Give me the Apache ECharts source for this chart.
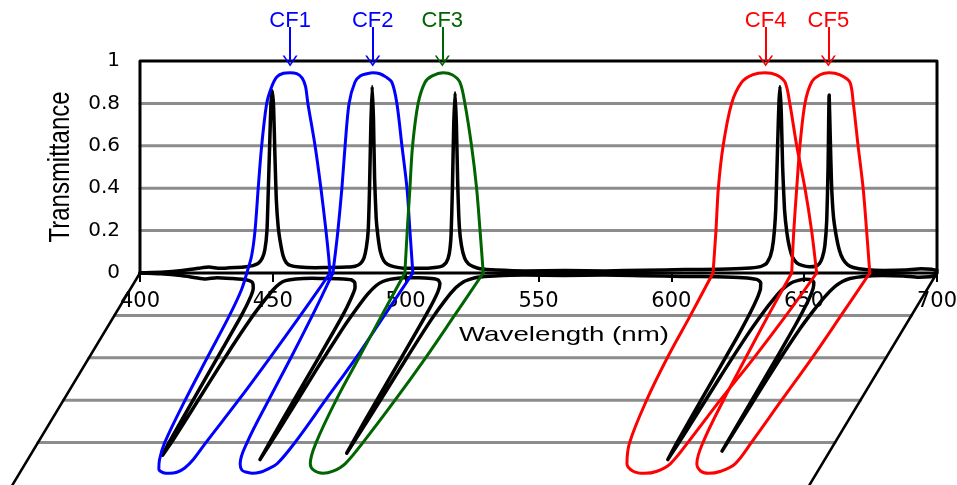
<!DOCTYPE html>
<html>
<head>
<meta charset="utf-8">
<script src="https://cdn.jsdelivr.net/npm/echarts@6/dist/echarts.min.js"></script>
<style>
    html, body { margin: 0; padding: 0; background: #fff; }
    #main { width: 957px; height: 485px; }
</style>
</head>
<body>
<div id="main"></div>
<script>
    // axis ticks / labels
    var xTicks = [400, 450, 500, 550, 600, 650, 700];
    var yTickLabels = ['0', '0.2', '0.4', '0.6', '0.8', '1'];
    var gridLevels = [0.2, 0.4, 0.6, 0.8];

    // colour filters
    var filterNames = ['CF1', 'CF2', 'CF3', 'CF4', 'CF5'];
    var filterColors = ['#0000ff', '#0000ff', '#006400', '#ff0000', '#ff0000'];
    var filterCenters = [456.5, 487.6, 513.8, 635.5, 659.1];

    var cf1 = [[440.2,0],[442,0.08],[443.3,0.2],[444.5,0.4],[445.8,0.6],[447.7,0.8],[449.6,0.88],[451.5,0.925],[454,0.942],[456.5,0.945],[459,0.94],[461,0.92],[462.3,0.88],[463.2,0.8],[465.9,0.6],[468.1,0.4],[470,0.2],[471,0.08],[471.5,0]];
    var cf2 = [[472.6,0],[473.6,0.1],[474.5,0.2],[476,0.4],[477.2,0.6],[478.7,0.8],[480.9,0.9],[483,0.93],[485.4,0.94],[487.7,0.945],[490.3,0.94],[492.5,0.925],[494.8,0.9],[496.7,0.8],[498.6,0.6],[500.5,0.4],[501.6,0.2],[502.7,0]];
    var cf3 = [[499.7,0],[500.6,0.2],[501.6,0.4],[502.6,0.6],[504.7,0.8],[507.3,0.9],[510,0.93],[514.2,0.945],[517.5,0.935],[520.4,0.9],[522.3,0.8],[524.8,0.6],[526.7,0.4],[528,0.2],[529.2,0]];
    var cf4 = [[615.7,0],[616.8,0.2],[617.7,0.4],[619.5,0.6],[622.7,0.8],[626.5,0.9],[630.5,0.935],[635.2,0.945],[639.5,0.935],[642.8,0.9],[644.6,0.8],[647.2,0.6],[650.3,0.4],[652.8,0.2],[654.7,0]];
    var cf5 = [[645.3,0],[646.1,0.2],[647.2,0.4],[648.4,0.6],[650.3,0.8],[652.8,0.9],[656,0.935],[659.4,0.945],[663.5,0.935],[667.2,0.9],[668.5,0.8],[670.3,0.6],[672.2,0.4],[673.5,0.2],[674.7,0]];
    var filters = [cf1, cf2, cf3, cf4, cf5];

    // laser lines (black)
    var laser = [[400,0],[408,0.004],[416,0.012],[422,0.022],[426,0.028],[430,0.022],[436,0.026],[440,0.03],[442.5,0.035],[444.5,0.045],[446,0.07],[447,0.11],[447.8,0.2],[448.2,0.35],[448.8,0.6],[449.3,0.8],[449.8,0.86],[450.3,0.78],[450.8,0.55],[451.3,0.35],[452,0.22],[452.9,0.14],[453.9,0.08],[455,0.05],[456.5,0.036],[460,0.028],[466,0.025],[472,0.026],[478,0.028],[481,0.032],[483,0.045],[484.3,0.07],[485.2,0.12],[485.9,0.2],[486.4,0.4],[486.9,0.7],[487.4,0.88],[487.9,0.72],[488.3,0.45],[488.9,0.26],[489.6,0.17],[490.5,0.1],[491.7,0.06],[493.3,0.04],[495.5,0.03],[500,0.022],[506,0.022],[511,0.026],[513.8,0.033],[515.3,0.05],[516.4,0.09],[517.1,0.18],[517.6,0.4],[518.1,0.7],[518.6,0.85],[519.1,0.7],[519.6,0.42],[520.2,0.22],[521,0.13],[522.2,0.07],[523.7,0.042],[525.5,0.03],[528,0.02],[534,0.014],[545,0.01],[560,0.012],[575,0.01],[590,0.013],[605,0.016],[618,0.018],[628,0.022],[633.5,0.03],[635.8,0.045],[637.3,0.08],[638.4,0.15],[639.3,0.3],[640,0.6],[640.5,0.8],[640.9,0.88],[641.4,0.75],[641.9,0.5],[642.6,0.3],[643.5,0.19],[644.5,0.12],[645.6,0.075],[647.2,0.048],[649.2,0.036],[652,0.03],[654.3,0.032],[655.8,0.045],[656.9,0.075],[657.8,0.13],[658.5,0.25],[659,0.5],[659.4,0.84],[659.8,0.65],[660.3,0.42],[661,0.27],[662,0.18],[663.2,0.11],[664.6,0.065],[666.3,0.04],[668.5,0.026],[673,0.016],[680,0.012],[688,0.014],[694,0.02],[698,0.018],[700,0.012]];

    // slanted "floor" below the axis: each point is reflected and pushed left
    var SHEAR = 48; // nm per unit of transmittance
    function mirror(pts) {
        return pts.map(function (p) { return [p[0] - SHEAR * p[1], -p[1]]; });
    }

    function line(data, color, width, smooth) {
        return {
            type: 'line',
            data: data,
            showSymbol: false,
            symbol: 'none',
            clip: false,
            silent: true,
            animation: false,
            smooth: smooth || false,
            lineStyle: { color: color, width: width, cap: 'round', join: 'round' },
            itemStyle: { color: color }
        };
    }

    var x0 = xTicks[0], x1 = xTicks[xTicks.length - 1];
    var series = [];
    // grid lines, top and slanted copy
    gridLevels.forEach(function (g) {
        series.push(line([[x0, g], [x1, g]], '#8c8c8c', 3));
        series.push(line(mirror([[x0, g], [x1, g]]), '#8c8c8c', 3));
    });
    // plot frame + zero line
    series.push(line([[x0, 0], [x0, 1], [x1, 1], [x1, 0]], '#000', 3));
    series.push(line([[x0, 0], [x1, 0]], '#000', 3));
    series.push(line(mirror([[x0, 0], [x0, 1]]), '#000', 2.5));
    series.push(line(mirror([[x1, 0], [x1, 1]]), '#000', 2.5));
    // laser
    series.push(line(laser, '#000', 3.5, 0.15));
    series.push(line(mirror(laser), '#000', 3.5, 0.2));
    // filters
    var chevron = 'path://M0,10 L10,0 L20,10 L17.5,10 L10,2.5 L2.5,10 Z';
    filters.forEach(function (f, i) {
        var s = line(f, filterColors[i], 3, 0.3);
        s.name = filterNames[i];
        s.markLine = {
            silent: true,
            animation: false,
            symbol: ['none', chevron],
            symbolSize: [15, 11],
            lineStyle: { color: filterColors[i], width: 2, type: 'solid' },
            label: {
                show: true,
                position: 'start',
                distance: -5,
                formatter: filterNames[i],
                color: filterColors[i],
                fontSize: 22,
                fontFamily: 'Liberation Sans'
            },
            data: [[{ coord: [filterCenters[i], 1.16] }, { coord: [filterCenters[i], 1.0] }]]
        };
        series.push(s);
        series.push(line(mirror(f), filterColors[i], 3, 0.35));
    });

    // plot: 350..700 nm wide (room for the slanted floor), -1..1.2 tall
    var gridTop = 18.6, gridLeft = 7.15, gridRight = 20;
    var pxPerUnitY = (485 - gridTop) / 2.2;
    var pxPerNm = (957 - gridLeft - gridRight) / 350;

    var myChart = echarts.init(document.getElementById('main'));
    var option = {
        backgroundColor: '#fff',
        animation: false,
        grid: { left: gridLeft, right: gridRight, top: gridTop, bottom: 0, outerBoundsMode: 'none', containLabel: false },
        xAxis: {
            type: 'value',
            min: 350,
            max: 700,
            offset: -pxPerUnitY,
            axisLine: { show: false, onZero: false },
            axisTick: { show: true, customValues: xTicks, length: 9, lineStyle: { color: '#000', width: 2 } },
            axisLabel: {
                customValues: xTicks,
                margin: 18,
                color: '#000',
                fontSize: 21,
                fontFamily: 'DejaVu Sans'
            },
            splitLine: { show: false }
        },
        yAxis: {
            type: 'value',
            min: -1,
            max: 1.2,
            interval: 0.2,
            offset: -(x0 - 350) * pxPerNm,
            axisLine: { show: false, onZero: false },
            axisTick: { show: false },
            splitLine: { show: false },
            axisLabel: {
                margin: 20,
                color: '#000',
                fontSize: 20,
                fontFamily: 'DejaVu Sans',
                formatter: function (v) {
                    var i = Math.round(v / 0.2);
                    return (i >= 0 && i < yTickLabels.length) ? yTickLabels[i] : '';
                }
            }
        },
        graphic: [
            {
                type: 'text', x: 61, y: 167, rotation: Math.PI / 2, scaleY: 1.2,
                style: { text: 'Transmittance', fill: '#000', fontSize: 24, fontFamily: 'Liberation Sans', align: 'center', verticalAlign: 'middle' }
            },
            {
                type: 'text', x: 564, y: 335, scaleX: 1.32,
                style: { text: 'Wavelength (nm)', fill: '#000', fontSize: 21, fontFamily: 'Liberation Sans', align: 'center', verticalAlign: 'middle' }
            }
        ],
        series: series
    };
    myChart.setOption(option);
</script>
</body>
</html>
